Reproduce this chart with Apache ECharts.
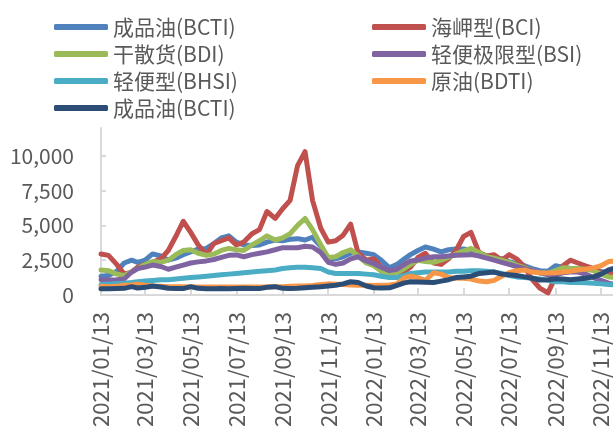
<!DOCTYPE html>
<html>
<head>
<meta charset="utf-8">
<script src="https://cdn.jsdelivr.net/npm/echarts@6/dist/echarts.min.js"></script>
<style>
  html, body { margin: 0; padding: 0; background: #fff; }
  #chart { width: 613px; height: 429px; }
</style>
</head>
<body>
<div id="chart"></div>
<script>
// sample dates (x)
const dates = [
  '2021/01/13','2021/01/23','2021/02/03','2021/02/13','2021/02/23','2021/03/03',
  '2021/03/13','2021/03/23','2021/04/03','2021/04/13','2021/04/23','2021/05/03',
  '2021/05/13','2021/05/23','2021/06/03','2021/06/13','2021/06/23','2021/07/03',
  '2021/07/13','2021/07/23','2021/08/03','2021/08/13','2021/08/23','2021/09/03',
  '2021/09/13','2021/09/23','2021/10/03','2021/10/13','2021/10/23','2021/11/03',
  '2021/11/13','2021/11/23','2021/12/03','2021/12/13','2021/12/23','2022/01/03',
  '2022/01/13','2022/01/23','2022/02/03','2022/02/13','2022/02/23','2022/03/03',
  '2022/03/13','2022/03/23','2022/04/03','2022/04/13','2022/04/23','2022/05/03',
  '2022/05/13','2022/05/23','2022/06/03','2022/06/13','2022/06/23','2022/07/03',
  '2022/07/13','2022/07/23','2022/08/03','2022/08/13','2022/08/23','2022/09/03',
  '2022/09/13','2022/09/23','2022/10/03','2022/10/13','2022/10/23','2022/11/03',
  '2022/11/13','2022/11/23','2022/12/03'
]

const tickLabels = [
  '2021/01/13','2021/03/13','2021/05/13','2021/07/13','2021/09/13','2021/11/13',
  '2022/01/13','2022/03/13','2022/05/13','2022/07/13','2022/09/13','2022/11/13'
]
const yTicks = [0, 2500, 5000, 7500, 10000]

const names = ['成品油(BCTI)', '海岬型(BCI)', '干散货(BDI)', '轻便极限型(BSI)', '轻便型(BHSI)', '原油(BDTI)', '成品油(BCTI) ']
const colors = ['#4F81BD', '#C0504D', '#9BBB59', '#8064A2', '#4BACC6', '#F79646', '#2C4D75']

const bcti1 = [1350,1400,1700,2300,2500,2350,2500,2950,2800,2500,2650,2900,
  3100,3300,3350,3700,4100,4250,3800,3600,3550,3600,3800,3950,
  3900,4000,4050,3950,4150,3500,2600,2600,2750,3000,3100,3000,
  2900,2500,1950,2200,2600,2900,3200,3450,3300,3100,3250,3300,
  3300,3200,3050,2800,2700,2600,2400,2250,2100,1900,1750,1700,
  2100,2000,1900,1900,1900,1800,1700,1600,1600]
const bci = [2950,2850,2200,1500,1650,2000,2200,2350,2600,3200,4200,5300,
  4500,3600,2900,3700,3900,4100,3600,3800,4400,4700,6000,5500,
  6200,6800,9300,10300,6800,4800,3800,3900,4300,5100,3000,2500,
  2600,2000,1600,1500,1700,2000,2700,3000,2300,2200,2600,3200,
  4200,4500,3000,2800,2900,2500,2900,2600,2000,1100,500,150,
  1300,2100,2500,2300,2100,1900,1600,1500,1500]
const bdi = [1800,1750,1500,1400,1650,1900,2200,2400,2350,2500,2900,3200,
  3250,3000,2850,2950,3200,3350,3250,3200,3600,3900,4250,3950,
  4100,4400,5000,5500,4700,3600,2700,2750,3050,3250,2800,2300,
  2100,1700,1450,1600,1900,2200,2500,2400,2350,2500,2700,2950,
  3150,3350,3050,2750,2650,2500,2350,2150,1950,1750,1600,1550,
  1750,1950,1900,1900,1850,1750,1500,1300,1250]
const bsi = [1100,1080,1100,1150,1650,1900,2000,2150,2050,1850,2000,2150,
  2300,2380,2450,2550,2700,2850,2880,2750,2900,3000,3100,3250,
  3400,3400,3400,3500,3450,3050,2350,2200,2300,2600,2750,2450,
  2250,2000,1750,1850,2200,2450,2520,2650,2750,2750,2800,2850,
  2880,2900,2800,2650,2500,2350,2200,2050,1900,1750,1600,1450,
  1450,1600,1650,1650,1500,1250,1050,850,750]
const bhsi = [750,780,820,850,900,950,1000,1050,1100,1100,1150,1200,
  1250,1300,1350,1400,1450,1500,1550,1600,1650,1700,1750,1800,
  1900,1950,2000,2000,1950,1900,1650,1550,1550,1550,1550,1500,
  1450,1350,1250,1250,1400,1550,1600,1650,1650,1650,1650,1700,
  1700,1750,1750,1700,1650,1550,1400,1300,1250,1200,1150,1050,
  950,950,900,900,880,850,800,750,720]
const bdti = [620,600,620,700,720,780,700,650,620,600,600,600,
  580,580,580,580,570,580,580,580,580,580,580,590,
  600,620,650,650,680,750,800,780,750,720,700,700,
  680,700,720,800,1250,1350,1250,1050,1600,1500,1250,1200,
  1200,1150,1000,950,1050,1350,1600,1750,1800,1650,1600,1580,
  1600,1650,1700,1800,1850,1950,2100,2400,2450]
const bcti2 = [450,450,460,480,600,500,550,650,580,480,470,460,
  600,480,450,450,460,450,460,480,470,460,560,600,
  480,470,480,520,560,600,650,700,800,950,900,650,
  520,500,520,700,870,950,940,920,900,1000,1100,1250,
  1300,1350,1550,1600,1650,1500,1450,1400,1300,1200,1080,1100,
  1150,1150,1100,1150,1200,1300,1500,1800,1950]

const seriesValues = [bcti1, bci, bdi, bsi, bhsi, bdti, bcti2]

const toTime = s => {
  const p = s.split('/').map(Number)
  return Date.UTC(p[0], p[1] - 1, p[2])
}
const fmt = v => {
  const d = new Date(v)
  const pad = n => (n < 10 ? '0' : '') + n
  return d.getUTCFullYear() + '/' + pad(d.getUTCMonth() + 1) + '/' + pad(d.getUTCDate())
}

const xTicks = tickLabels.map(toTime)
const font = "'Noto Sans CJK SC', 'Noto Sans', sans-serif"
const grey = '#595959'
const axisGrey = '#D9D9D9'

const chart = echarts.init(document.getElementById('chart'), null, { renderer: 'canvas' })

const legendBase = {
  orient: 'vertical',
  top: 10,
  itemWidth: 54,
  itemHeight: 6,
  itemGap: 3,
  icon: 'roundRect',
  selectedMode: false,
  textStyle: { fontFamily: font, fontSize: 21, color: grey, lineHeight: 24 }
}

const option = {
  animation: false,
  color: colors,
  legend: [
    Object.assign({}, legendBase, { left: 49, data: [names[0], names[2], names[4], names[6]] }),
    Object.assign({}, legendBase, { left: 367, data: [names[1], names[3], names[5]] })
  ],
  grid: {
    left: 101,
    right: 0,
    top: 128,
    bottom: 134,
    containLabel: false,
    outerBoundsMode: 'none'
  },
  xAxis: {
    type: 'value',
    min: toTime('2021/01/13'),
    max: toTime('2022/11/29'),
    splitLine: { show: false },
    axisLine: { lineStyle: { color: axisGrey, width: 2 } },
    axisTick: { show: true, inside: true, length: 7, customValues: xTicks, lineStyle: { color: axisGrey, width: 2 } },
    axisLabel: {
      customValues: xTicks,
      rotate: 90,
      margin: 17,
      fontFamily: font,
      fontSize: 22,
      color: grey,
      formatter: v => fmt(v)
    }
  },
  yAxis: {
    type: 'value',
    min: 0,
    max: 12000,
    splitLine: { show: false },
    axisLine: { show: true, lineStyle: { color: axisGrey, width: 2 } },
    axisTick: { show: true, inside: true, length: 5, customValues: yTicks, lineStyle: { color: axisGrey, width: 2 } },
    axisLabel: {
      customValues: yTicks,
      margin: 27,
      fontFamily: font,
      fontSize: 21,
      color: grey,
      formatter: v => v.toLocaleString('en-US')
    }
  },
  series: names.map((n, i) => ({
    name: n,
    type: 'line',
    symbol: 'none',
    clip: false,
    lineStyle: { width: 5, color: colors[i], cap: 'round', join: 'round' },
    itemStyle: { color: colors[i] },
    data: dates.map((d, j) => [toTime(d), seriesValues[i][j]])
  }))
}

chart.setOption(option)
</script>
</body>
</html>
